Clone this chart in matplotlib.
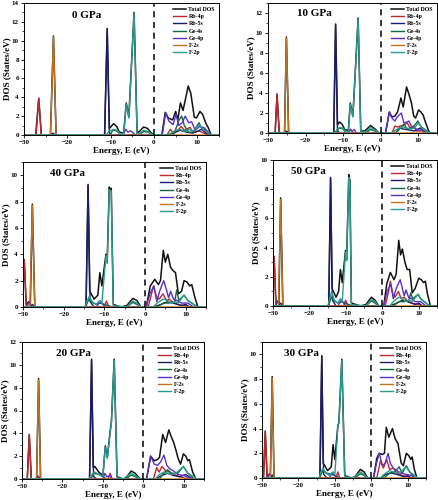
import matplotlib
matplotlib.use("Agg")
import matplotlib.pyplot as plt
from matplotlib.ticker import MultipleLocator

plt.rcParams['font.family'] = ['Liberation Serif', 'DejaVu Serif']
plt.rcParams['font.weight'] = 'bold'

SERIES = ['Total DOS', 'Rb-4p', 'Rb-5s', 'Ge-4s', 'Ge-4p', 'F-2s', 'F-2p']
COLORS = ['#111111', '#c0282d', '#1c1c6e', '#12683a', '#5a2fc8', '#c07420', '#2a9d8f']

PRESSURES = ['0 GPa', '10 GPa', '40 GPa', '50 GPa', '20 GPa', '30 GPa']
YMAX = [14, 13, 11, 10, 12, 11]
YSTEP = [2, 2, 2, 2, 2, 2]

# (energy eV, DOS states/eV) knots
DOS_0 = {
    'Total DOS': [(-27.3,0),(-26.6,3.9),(-26.0,0),(-23.9,0),(-23.2,10.5),(-22.6,0),(-11.4,0),(-10.8,11.3),(-10.3,0.7),(-9.3,1.2),(-8.6,0.9),(-8.0,0.3),(-7.0,0.2),(-6.4,3.4),(-5.8,1.9),(-4.6,13.0),(-3.9,0.2),(-3.3,0.4),(-2.4,0.85),(-1.5,0.7),(-0.6,0.2),(0,0),(1.8,0),(2.6,2.4),(3.3,1.8),(4.3,1.6),(5.0,2.5),(5.5,1.6),(6.1,3.4),(6.7,2.6),(7.9,5.2),(8.5,4.4),(9.3,1.9),(9.8,1.8),(10.6,2.5),(11.2,2.2),(12.0,1.2),(12.5,0.8),(13.0,0.2),(13.3,0)],
    'Rb-4p': [(-27.2,0),(-26.6,3.85),(-26.0,0),(3.0,0),(3.8,0.6),(4.3,0.3),(5.3,0.4),(6.3,0.9),(7.0,0.5),(8.3,0.8),(9.0,0.3),(10.5,0.4),(11.5,0.2),(12.5,0)],
    'Rb-5s': [(-24.0,0),(-23.3,0.2),(-22.8,0),(-11.4,0),(-10.8,11.2),(-10.3,0.2),(-9.5,0),(3.5,0),(5.0,0.3),(6.0,0.5),(7.5,0.3),(9.0,0.2),(11.0,0.6),(12.0,0.2),(12.8,0)],
    'Ge-4s': [(-10.2,0),(-9.4,0.55),(-8.5,0.4),(-7.6,0),(-3.5,0),(-2.4,0.35),(-1.3,0.3),(-0.3,0),(4.5,0),(5.8,1.6),(6.4,2.0),(7.0,1.0),(8.0,0.3),(9.0,0.3),(10.4,1.3),(11.0,0.7),(12.0,0.5),(13.0,0)],
    'Ge-4p': [(-7.2,0),(-6.5,0.6),(-6.0,0.3),(-5.4,0.45),(-4.8,0.2),(-4.2,0),(1.9,0),(2.7,2.35),(3.4,1.5),(4.4,1.1),(5.1,2.2),(5.7,1.0),(6.5,1.3),(7.2,2.0),(8.0,1.3),(8.7,1.4),(9.5,0.5),(10.5,0.9),(11.5,0.8),(12.5,0.3),(13.0,0)],
    'F-2s': [(-23.9,0),(-23.2,10.4),(-22.6,0)],
    'F-2p': [(-11.0,0),(-10.4,0.4),(-9.3,0.6),(-8.5,0.5),(-7.8,0.1),(-7.0,0.1),(-6.4,3.3),(-5.8,1.8),(-4.6,12.9),(-3.9,0.1),(-3.2,0.2),(-2.4,0.5),(-1.5,0.4),(-0.6,0.1),(0,0),(3.0,0),(4.0,0.2),(5.0,0.5),(6.0,0.6),(7.0,0.4),(8.0,0.6),(9.0,0.4),(10.4,1.1),(11.3,0.6),(12.5,0.2),(13.3,0)],
}

DOS_10 = {
    'Total DOS': [(-28.1,0),(-27.6,3.9),(-27.0,0),(-25.6,0),(-25.1,9.6),(-24.5,0),(-12.5,0),(-12.0,10.9),(-11.5,0.8),(-11.0,1.1),(-10.3,0.9),(-9.5,0.3),(-8.6,0.3),(-8.1,3.0),(-7.4,1.7),(-6.0,11.5),(-5.3,0.2),(-4.2,0.2),(-2.7,0.75),(-1.5,0.4),(-0.5,0),(1.3,0),(2.3,2.1),(3.0,1.6),(3.8,1.7),(4.5,2.1),(5.4,3.5),(6.0,2.6),(6.9,4.6),(7.6,3.8),(8.2,3.0),(8.8,1.7),(9.3,1.5),(10.1,2.3),(10.7,2.1),(11.3,1.8),(12.0,1.0),(13.0,0)],
    'Rb-4p': [(-28.1,0),(-27.6,3.85),(-27.0,0),(-8.6,0),(-8.0,0.4),(-7.4,0),(3.0,0),(3.8,0.7),(4.5,0.6),(5.2,0.7),(6.2,0.8),(7.1,1.0),(7.8,0.5),(8.8,0.7),(9.5,0.2),(11.0,0.2),(12.0,0)],
    'Rb-5s': [(-25.6,0),(-25.1,0.2),(-24.5,0),(-12.5,0),(-12.0,10.8),(-11.5,0.2),(-10.8,0),(4.0,0),(5.0,0.5),(6.0,0.4),(7.5,0.3),(9.0,0.2),(10.5,0.5),(12.0,0.1),(12.8,0)],
    'Ge-4s': [(-12.0,0),(-11.0,0.5),(-10.0,0.4),(-9.3,0),(-4.0,0),(-2.7,0.35),(-1.5,0.2),(-0.5,0),(4.0,0),(5.3,0.5),(6.3,0.9),(7.0,0.4),(8.5,0.5),(9.9,1.2),(10.8,0.6),(12.0,0.3),(13.0,0)],
    'Ge-4p': [(-9.0,0),(-8.1,0.3),(-7.5,0.2),(-7.0,0.35),(-6.5,0),(1.3,0),(2.3,2.1),(3.0,1.5),(3.8,1.2),(4.4,1.6),(5.5,2.0),(6.2,1.0),(7.0,1.1),(7.5,1.2),(8.3,0.6),(9.0,0.5),(10.0,0.3),(11.3,0.3),(12.5,0)],
    'F-2s': [(-25.6,0),(-25.1,9.5),(-24.5,0)],
    'F-2p': [(-12.3,0),(-11.5,0.4),(-11.0,0.55),(-10.0,0.5),(-9.3,0.1),(-8.6,0.1),(-8.1,2.9),(-7.4,1.6),(-6.0,11.4),(-5.3,0.1),(-4.0,0.1),(-2.7,0.55),(-1.5,0.3),(-0.5,0),(3.0,0),(4.0,0.3),(5.0,0.5),(6.0,0.6),(7.0,0.5),(8.0,0.4),(9.0,0.5),(10.0,1.0),(11.0,0.5),(12.0,0.2),(13.0,0)],
}

DOS_40 = {
    'Total DOS': [(-30.2,0),(-29.7,3.6),(-29.2,0.2),(-28.6,0.4),(-28.2,0.2),(-27.7,7.8),(-27.1,0),(-14.5,0),(-14.0,9.3),(-13.6,1.2),(-12.5,0.6),(-11.6,0.9),(-11.1,2.6),(-10.6,1.6),(-9.6,4.0),(-9.3,3.4),(-8.8,9.1),(-8.5,8.9),(-8.3,9.0),(-7.8,0.2),(-6.0,0),(-4.5,0.1),(-3.0,0.65),(-2.0,0.5),(-1.0,0),(0.3,0),(1.3,1.6),(2.4,2.1),(3.3,1.7),(3.8,2.0),(4.5,4.3),(5.0,3.4),(5.6,4.0),(6.3,3.0),(6.8,2.8),(7.5,2.6),(8.2,1.0),(9.0,1.2),(9.6,2.0),(10.3,1.9),(11.0,1.6),(11.5,1.7),(12.2,0.8),(13.0,0)],
    'Rb-4p': [(-30.2,0),(-29.7,3.55),(-29.2,0),(-10.0,0),(-9.5,0.45),(-9.0,0.1),(-8.5,0),(0.8,0),(1.6,1.0),(2.1,1.6),(2.8,0.8),(3.5,0.6),(4.4,1.0),(5.3,0.5),(6.0,0.6),(7.0,0.3),(8.0,0.2),(10.0,0.1),(11.0,0)],
    'Rb-5s': [(-28.3,0),(-27.7,0.2),(-27.1,0),(-14.5,0),(-14.0,9.2),(-13.5,0.4),(-12.5,0),(2.0,0),(4.0,0.2),(5.5,0.4),(7.0,0.3),(9.0,0.1),(10.0,0.2),(11.0,0)],
    'Ge-4s': [(-14.6,0),(-13.8,0.6),(-13.0,0.35),(-12.0,0.2),(-11.0,0.3),(-10.0,0.2),(-9.0,0.1),(-8.0,0),(-4.5,0),(-3.0,0.35),(-2.0,0.2),(-1.0,0),(3.0,0),(4.5,0.3),(6.0,0.3),(7.3,0.4),(7.8,1.3),(8.3,0.5),(9.6,0.9),(10.5,0.5),(12.0,0.2),(13.0,0)],
    'Ge-4p': [(-29.0,0),(-28.6,0.35),(-28.1,0),(-12.0,0),(-11.2,0.35),(-10.5,0.25),(-9.8,0),(0.3,0),(1.2,1.0),(2.2,1.6),(2.9,0.4),(3.6,1.2),(4.6,2.0),(5.1,1.5),(5.8,0.7),(6.3,1.2),(7.0,0.6),(7.8,0.5),(9.0,0.3),(10.5,0.3),(12.0,0)],
    'F-2s': [(-28.3,0),(-27.7,7.7),(-27.1,0)],
    'F-2p': [(-14.8,0),(-14.2,0.5),(-13.7,0.8),(-13.0,0.4),(-12.0,0.2),(-11.1,0.5),(-10.6,0.3),(-9.6,3.9),(-9.3,3.3),(-8.8,8.9),(-8.3,8.8),(-7.8,0.1),(-4.5,0),(-3.0,0.45),(-2.0,0.3),(-1.0,0),(2.0,0),(3.0,0.3),(4.5,0.6),(5.5,0.5),(6.5,0.3),(7.5,0.4),(8.2,0.3),(9.6,0.9),(10.5,0.5),(12.0,0.2),(13.0,0)],
}

DOS_50 = {
    'Total DOS': [(-30.2,0),(-29.7,3.4),(-29.2,0.2),(-28.6,0.35),(-28.4,0.2),(-27.9,7.4),(-27.3,0),(-14.7,0),(-14.2,8.8),(-13.8,1.2),(-12.7,0.6),(-12.0,1.0),(-11.5,2.5),(-11.0,1.6),(-10.1,3.8),(-9.8,3.2),(-9.2,9.0),(-8.9,8.6),(-8.5,0.2),(-6.0,0),(-4.5,0.1),(-3.0,0.6),(-2.0,0.4),(-1.0,0),(0.4,0),(1.2,1.5),(2.2,2.3),(3.2,1.8),(3.8,2.2),(4.5,4.5),(5.0,3.5),(5.5,3.9),(6.2,3.0),(6.8,2.5),(7.5,2.5),(8.2,0.9),(9.0,1.2),(10.0,1.9),(10.7,1.8),(11.3,1.6),(11.8,1.7),(12.4,0.8),(13.2,0)],
    'Rb-4p': [(-30.2,0),(-29.7,3.35),(-29.2,0),(-10.6,0),(-10.1,0.4),(-9.6,0.1),(-9.0,0),(0.8,0),(1.7,1.0),(2.2,1.7),(2.9,0.8),(3.5,0.6),(4.4,1.0),(5.2,0.5),(6.0,0.6),(7.0,0.3),(8.0,0.2),(10.0,0.1),(11.0,0)],
    'Rb-5s': [(-28.5,0),(-27.9,0.2),(-27.3,0),(-14.7,0),(-14.2,8.7),(-13.7,0.4),(-12.7,0),(2.0,0),(4.0,0.2),(5.5,0.4),(7.0,0.3),(9.0,0.1),(10.0,0.2),(11.0,0)],
    'Ge-4s': [(-14.8,0),(-14.0,0.6),(-13.2,0.35),(-12.2,0.2),(-11.2,0.3),(-10.2,0.2),(-9.2,0.1),(-8.2,0),(-4.5,0),(-3.0,0.35),(-2.0,0.2),(-1.0,0),(3.0,0),(4.5,0.3),(6.0,0.3),(7.3,0.4),(7.8,0.9),(8.3,0.5),(9.8,0.8),(10.5,0.5),(12.0,0.2),(13.0,0)],
    'Ge-4p': [(-29.2,0),(-28.8,0.35),(-28.3,0),(-12.2,0),(-11.4,0.35),(-10.7,0.25),(-10.0,0),(0.4,0),(1.3,1.0),(2.3,1.5),(3.0,0.5),(3.8,1.2),(4.9,1.8),(5.4,1.3),(6.0,0.7),(6.5,1.1),(7.2,0.6),(8.0,0.5),(9.0,0.3),(10.5,0.3),(12.0,0)],
    'F-2s': [(-28.5,0),(-27.9,7.3),(-27.3,0)],
    'F-2p': [(-15.0,0),(-14.4,0.5),(-13.9,1.0),(-13.2,0.4),(-12.2,0.2),(-11.5,0.5),(-11.0,0.3),(-10.1,3.7),(-9.8,3.1),(-9.2,8.8),(-8.9,8.4),(-8.5,0.1),(-4.5,0),(-3.0,0.45),(-2.0,0.3),(-1.0,0),(2.0,0),(3.0,0.3),(4.5,0.6),(5.5,0.5),(6.5,0.3),(7.5,0.4),(8.2,0.3),(9.8,0.8),(10.5,0.5),(12.0,0.2),(13.0,0)],
}

DOS_20 = {
    'Total DOS': [(-28.7,0),(-28.2,3.9),(-27.7,0),(-26.4,0),(-25.9,8.8),(-25.4,0),(-13.3,0),(-12.8,10.5),(-12.4,1.0),(-12.0,1.1),(-11.0,0.6),(-10.0,0.3),(-9.4,2.9),(-8.9,1.9),(-8.2,4.2),(-7.9,5.0),(-7.2,10.5),(-6.5,0.2),(-5.0,0),(-4.3,0.1),(-3.0,0.7),(-2.0,0.5),(-0.8,0),(0.8,0),(1.8,2.0),(2.7,1.6),(3.5,1.7),(4.0,1.9),(4.8,3.9),(5.5,3.2),(6.3,4.3),(6.8,3.8),(7.5,3.2),(8.0,2.6),(8.6,1.8),(9.2,1.3),(9.9,2.2),(10.5,2.0),(11.0,1.6),(11.4,1.7),(12.2,0.6),(13.0,0)],
    'Rb-4p': [(-28.7,0),(-28.2,3.85),(-27.7,0),(-8.7,0),(-8.2,0.5),(-7.7,0),(2.5,0),(3.3,1.0),(3.9,0.6),(4.6,1.1),(5.3,0.8),(6.5,0.6),(7.5,0.4),(9.0,0.2),(11.0,0)],
    'Rb-5s': [(-26.4,0),(-25.9,0.2),(-25.4,0),(-13.3,0),(-12.8,10.4),(-12.3,0.2),(-11.5,0),(3.0,0),(4.5,0.3),(6.0,0.5),(7.5,0.3),(9.0,0.2),(10.5,0.4),(12.0,0)],
    'Ge-4s': [(-13.0,0),(-12.2,0.5),(-11.0,0.4),(-10.0,0.2),(-9.0,0),(-4.3,0),(-3.0,0.35),(-2.0,0.2),(-0.8,0),(4.0,0),(5.0,0.5),(6.0,0.8),(7.0,0.5),(8.5,0.5),(9.9,1.1),(11.0,0.5),(12.5,0)],
    'Ge-4p': [(-26.6,0),(-26.1,0.3),(-25.6,0),(-10.0,0),(-9.5,0.5),(-9.0,0.2),(-8.3,0.3),(-7.8,0),(0.8,0),(1.8,2.0),(2.7,1.3),(3.5,1.2),(4.3,1.5),(5.1,2.1),(5.8,1.2),(6.5,0.9),(7.5,0.7),(8.5,0.4),(10.0,0.3),(12.0,0)],
    'F-2s': [(-26.4,0),(-25.9,8.7),(-25.4,0)],
    'F-2p': [(-13.4,0),(-12.5,0.5),(-12.0,0.6),(-11.0,0.4),(-10.0,0.2),(-9.4,2.8),(-8.9,1.8),(-8.2,4.1),(-7.9,4.9),(-7.2,10.4),(-6.5,0.1),(-5.0,0),(-3.0,0.5),(-2.0,0.3),(-0.8,0),(3.0,0),(4.0,0.4),(5.0,0.6),(6.0,0.5),(7.0,0.4),(8.0,0.5),(9.9,1.1),(11.0,0.5),(12.5,0.2),(13.0,0)],
}

DOS_30 = {
    'Total DOS': [(-29.6,0),(-29.1,3.8),(-28.6,0.1),(-28.0,0.3),(-27.7,0.2),(-27.2,8.2),(-26.7,0),(-14.1,0),(-13.6,9.9),(-13.2,1.2),(-12.0,0.6),(-11.0,0.9),(-10.5,2.7),(-10.0,1.5),(-9.2,4.2),(-8.9,4.5),(-8.1,9.6),(-7.3,0.2),(-5.5,0),(-4.5,0.1),(-3.0,0.7),(-2.0,0.5),(-1.0,0),(0.6,0),(1.5,1.6),(2.2,2.0),(3.0,1.9),(3.6,2.0),(4.1,4.1),(4.8,3.3),(5.8,4.0),(6.5,3.2),(7.3,2.8),(8.2,1.2),(8.8,1.0),(9.6,2.0),(10.3,1.8),(10.8,1.5),(11.2,1.7),(11.8,0.7),(12.5,0)],
    'Rb-4p': [(-29.6,0),(-29.1,3.75),(-28.6,0),(-9.7,0),(-9.2,0.5),(-8.7,0),(1.5,0),(2.5,1.4),(3.3,0.8),(4.2,1.5),(5.0,0.7),(6.0,0.8),(7.0,0.4),(8.5,0.2),(10.0,0.1),(11.0,0)],
    'Rb-5s': [(-27.7,0),(-27.2,0.25),(-26.7,0),(-14.1,0),(-13.6,9.8),(-13.1,0.3),(-12.2,0),(2.5,0),(4.0,0.3),(5.5,0.4),(7.0,0.3),(9.0,0.1),(10.0,0.2),(11.0,0)],
    'Ge-4s': [(-14.2,0),(-13.3,0.6),(-12.3,0.4),(-11.0,0.3),(-10.0,0.2),(-8.5,0),(-4.5,0),(-3.0,0.35),(-2.0,0.2),(-1.0,0),(3.5,0),(5.0,0.4),(6.5,0.5),(7.6,0.9),(8.5,0.4),(9.6,1.0),(10.5,0.5),(12.0,0)],
    'Ge-4p': [(-28.5,0),(-28.0,0.35),(-27.5,0),(-11.5,0),(-10.8,0.4),(-10.0,0.2),(-9.3,0),(0.6,0),(1.5,1.3),(2.2,2.0),(3.0,1.0),(3.8,1.2),(4.6,2.0),(5.2,1.2),(6.0,0.8),(7.0,0.6),(8.0,0.4),(9.5,0.3),(11.0,0.2),(12.0,0)],
    'F-2s': [(-27.7,0),(-27.2,8.1),(-26.7,0)],
    'F-2p': [(-14.4,0),(-13.8,0.5),(-13.3,0.8),(-12.5,0.4),(-11.5,0.2),(-10.5,0.5),(-10.0,0.3),(-9.2,4.1),(-8.9,4.4),(-8.1,9.5),(-7.3,0.1),(-5.0,0),(-3.0,0.5),(-2.0,0.3),(-1.0,0),(2.5,0),(3.5,0.3),(5.0,0.6),(6.0,0.5),(7.0,0.4),(8.0,0.5),(9.6,0.9),(10.5,0.5),(12.0,0.2),(12.5,0)],
}

PANEL_DATA = [DOS_0, DOS_10, DOS_40, DOS_50, DOS_20, DOS_30]
LABEL_POS = [(-19.0, 12.7), (-22.4, 11.9), (-23.4, 10.1), (-25.0, 9.2), (-21.7, 11.0), (-24.1, 10.1)]

W, H = 439, 500
# axes boxes in pixels: left, right, top, bottom
BOXES = [(24, 219, 3, 135), (268, 437, 3, 133), (23, 206, 162, 307),
         (273, 437, 160, 306), (22, 204, 342, 479), (262, 426, 342, 478)]

fig = plt.figure(figsize=(W / 100, H / 100), dpi=100)

for i, (name, data) in enumerate(zip(PRESSURES, PANEL_DATA)):
    l, r, t, b = BOXES[i]
    ax = fig.add_axes([l / W, 1 - b / H, (r - l) / W, (b - t) / H])
    for s, c in zip(SERIES, COLORS):
        pts = sorted([(-31.0, 0.0)] + data[s] + [(16.0, 0.0)])
        xs = [p[0] for p in pts]
        ys = [p[1] for p in pts]
        ax.plot(xs, ys, color=c, lw=1.1 if s == 'Total DOS' else 1.0, label=s)
    ax.axvline(0, color='black', lw=1.1, ls=(0, (4, 3)))
    ax.set_xlim(-30, 15)
    ax.set_ylim(0, YMAX[i])
    ax.xaxis.set_major_locator(MultipleLocator(10))
    ax.xaxis.set_minor_locator(MultipleLocator(5))
    ax.yaxis.set_major_locator(MultipleLocator(YSTEP[i]))
    ax.yaxis.set_minor_locator(MultipleLocator(1))
    ax.tick_params(axis='both', which='major', labelsize=5, length=2.5, width=0.6, pad=1.2)
    ax.tick_params(axis='both', which='minor', length=1.5, width=0.5)
    for lab in ax.get_xticklabels() + ax.get_yticklabels():
        lab.set_fontweight('bold')
    for sp in ax.spines.values():
        sp.set_linewidth(0.7)
    ax.set_xlabel('Energy, E (eV)', fontsize=6.5, fontweight='bold', labelpad=1)
    ax.set_ylabel('DOS (States/eV)', fontsize=6.5, fontweight='bold', labelpad=0.5)
    ax.text(LABEL_POS[i][0], LABEL_POS[i][1], name, fontsize=8, fontweight='bold',
            ha='left', va='center')
    ax.legend(loc='upper right', frameon=False, handlelength=2.2,
              labelspacing=0.35, handletextpad=0.4, borderaxespad=0.3,
              prop={'size': 4.2, 'weight': 'bold'})

fig.savefig('out.png', dpi=100)
